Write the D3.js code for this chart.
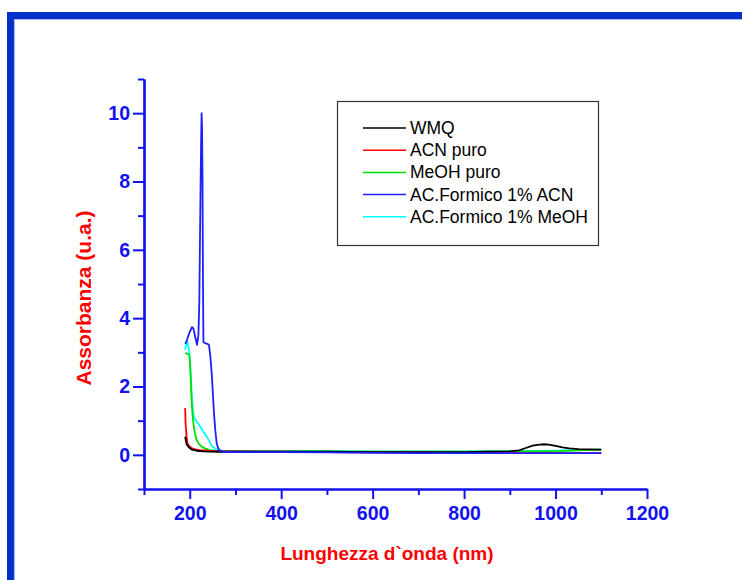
<!DOCTYPE html>
<html>
<head>
<meta charset="utf-8">
<script src="https://cdn.jsdelivr.net/npm/d3@7"></script>
<style>
  html, body { margin: 0; padding: 0; background: #ffffff; }
  svg { display: block; }
</style>
</head>
<body>
<svg id="chart" width="742" height="580"></svg>
<script>
// UV-Vis absorbance spectra of the solvents
const seriesNames = ["WMQ", "ACN puro", "MeOH puro", "AC.Formico 1% ACN", "AC.Formico 1% MeOH"];
const seriesColors = ["#000000", "#ff0000", "#00e000", "#1e1eff", "#00ffff"];

const wmqX = [190, 193, 197, 200, 205, 215, 230, 260, 300, 400, 500, 600, 700, 800, 850, 900, 920, 935, 950, 965, 975, 985, 1000, 1015, 1030, 1050, 1075, 1100];
const wmqY = [0.53, 0.32, 0.24, 0.2, 0.15, 0.12, 0.1, 0.09, 0.09, 0.09, 0.09, 0.08, 0.08, 0.08, 0.09, 0.1, 0.13, 0.2, 0.27, 0.3, 0.31, 0.3, 0.26, 0.22, 0.19, 0.17, 0.16, 0.15];

const acnX = [190, 191, 193, 195, 199, 204, 212, 222, 240, 270, 300, 400, 500, 600, 700, 800, 900, 1000, 1100];
const acnY = [1.37, 0.9, 0.55, 0.34, 0.25, 0.2, 0.16, 0.14, 0.12, 0.1, 0.1, 0.09, 0.08, 0.07, 0.07, 0.06, 0.05, 0.05, 0.05];

const meohX = [190, 195, 199, 201, 202, 204, 206, 208, 211, 215, 220, 226, 235, 244, 260, 300, 400, 500, 600, 700, 800, 900, 1000, 1100];
const meohY = [2.98, 2.96, 2.93, 2.6, 2.29, 1.6, 1.2, 0.93, 0.65, 0.44, 0.32, 0.24, 0.18, 0.14, 0.11, 0.1, 0.1, 0.1, 0.09, 0.09, 0.09, 0.1, 0.11, 0.15];

const formAcnX = [190, 193, 196, 200, 205, 208, 212, 216, 219, 221, 223, 225, 226, 227, 228, 229, 230, 233, 238, 242, 245, 248, 251, 253, 256, 259, 262, 266, 275, 300, 400, 500, 600, 700, 800, 900, 1000, 1100];
const formAcnY = [3.25, 3.32, 3.45, 3.6, 3.74, 3.7, 3.45, 3.22, 3.5, 4.5, 7.0, 9.3, 10.0, 9.5, 8.0, 5.0, 3.3, 3.27, 3.25, 3.22, 2.9, 2.4, 1.7, 1.23, 0.7, 0.34, 0.2, 0.12, 0.09, 0.08, 0.08, 0.07, 0.06, 0.05, 0.05, 0.05, 0.05, 0.05];

const formMeohX = [190, 192, 195, 198, 200, 202, 204, 206, 209, 213, 218, 225, 231, 237, 243, 248, 254, 259, 270, 300, 400, 500, 600, 700, 800, 900, 1000, 1100];
const formMeohY = [3.07, 3.2, 3.3, 3.1, 2.87, 2.4, 1.9, 1.45, 1.12, 1.0, 0.93, 0.78, 0.65, 0.54, 0.4, 0.26, 0.2, 0.15, 0.12, 0.11, 0.11, 0.11, 0.1, 0.1, 0.1, 0.11, 0.12, 0.15];

const xMajorTicks = [200, 400, 600, 800, 1000, 1200];
const xMinorTicks = [100, 300, 500, 700, 900, 1100];
const yMajorTicks = [0, 2, 4, 6, 8, 10];
const yMinorTicks = [-1, 1, 3, 5, 7, 9, 11];

const xLabel = "Lunghezza d`onda (nm)";
const yLabel = "Assorbanza (u.a.)";

const seriesX = [wmqX, acnX, meohX, formAcnX, formMeohX];
const seriesY = [wmqY, acnY, meohY, formAcnY, formMeohY];

const svg = d3.select("#chart");
const axisColor = "#1212f0";

// Page frame
svg.append("rect")
  .attr("x", 10.5).attr("y", 15.5)
  .attr("width", 900).attr("height", 800)
  .attr("fill", "none")
  .attr("stroke", "#0030c8").attr("stroke-width", 7);
svg.append("path")
  .attr("d", "M14.5,800 V19.5 H900")
  .attr("fill", "none")
  .attr("stroke", "#a9bff0").attr("stroke-width", 1.2);

const x = d3.scaleLinear().domain([100, 1200]).range([144, 647]);
const y = d3.scaleLinear().domain([-1, 11]).range([489, 79]);

const tickFont = "'Liberation Sans', Arial, sans-serif";

// X axis: major ticks with labels, minor ticks without
const gx = svg.append("g").attr("transform", `translate(0,${y(-1)})`);
gx.call(d3.axisBottom(x).tickValues(xMajorTicks).tickFormat(d3.format("d"))
  .tickSize(10).tickSizeOuter(0).tickPadding(7));
gx.append("g").call(d3.axisBottom(x).tickValues(xMinorTicks).tickSize(6).tickSizeOuter(0).tickFormat(""));

// Y axis
const gy = svg.append("g").attr("transform", `translate(${x(100)},0)`);
gy.call(d3.axisLeft(y).tickValues(yMajorTicks).tickFormat(d3.format("d"))
  .tickSize(11).tickSizeOuter(0).tickPadding(3));
gy.append("g").call(d3.axisLeft(y).tickValues(yMinorTicks).tickSize(6).tickSizeOuter(0).tickFormat(""));

svg.selectAll(".domain").attr("stroke", axisColor).attr("stroke-width", 2.2);
svg.selectAll(".tick line").attr("stroke", axisColor).attr("stroke-width", 2);
svg.selectAll(".tick text")
  .attr("fill", axisColor)
  .style("font-family", tickFont)
  .style("font-size", "19.5px")
  .style("font-weight", "bold");

// Spectra
const line = d3.line().x(d => x(d[0])).y(d => y(d[1]));
const plotOrder = [4, 2, 1, 0, 3];
plotOrder.forEach(i => {
  const pts = seriesX[i].map((v, k) => [v, seriesY[i][k]]);
  svg.append("path")
    .datum(pts)
    .attr("d", line)
    .attr("fill", "none")
    .attr("stroke", seriesColors[i])
    .attr("stroke-width", 1.8)
    .attr("stroke-linejoin", "round");
});

// Axis titles
svg.append("text")
  .attr("x", 387).attr("y", 560)
  .attr("text-anchor", "middle")
  .attr("fill", "#ff0000")
  .style("font-family", tickFont)
  .style("font-size", "19px")
  .style("font-weight", "bold")
  .text(xLabel);

svg.append("text")
  .attr("transform", "translate(91,298) rotate(-90)")
  .attr("text-anchor", "middle")
  .attr("fill", "#ff0000")
  .style("font-family", tickFont)
  .style("font-size", "21px")
  .style("font-weight", "bold")
  .text(yLabel);

// Legend
const lg = svg.append("g");
lg.append("rect")
  .attr("x", 337.5).attr("y", 101.5)
  .attr("width", 261).attr("height", 144)
  .attr("fill", "#ffffff")
  .attr("stroke", "#333333").attr("stroke-width", 1.2);
seriesNames.forEach((name, i) => {
  const yy = 128 + i * 22.2;
  lg.append("line")
    .attr("x1", 363).attr("x2", 406)
    .attr("y1", yy).attr("y2", yy)
    .attr("stroke", seriesColors[i]).attr("stroke-width", 1.5);
  lg.append("text")
    .attr("x", 410).attr("y", yy + 6)
    .attr("fill", "#000000")
    .style("font-family", tickFont)
    .style("font-size", "17.5px")
    .text(name);
});
</script>
</body>
</html>
